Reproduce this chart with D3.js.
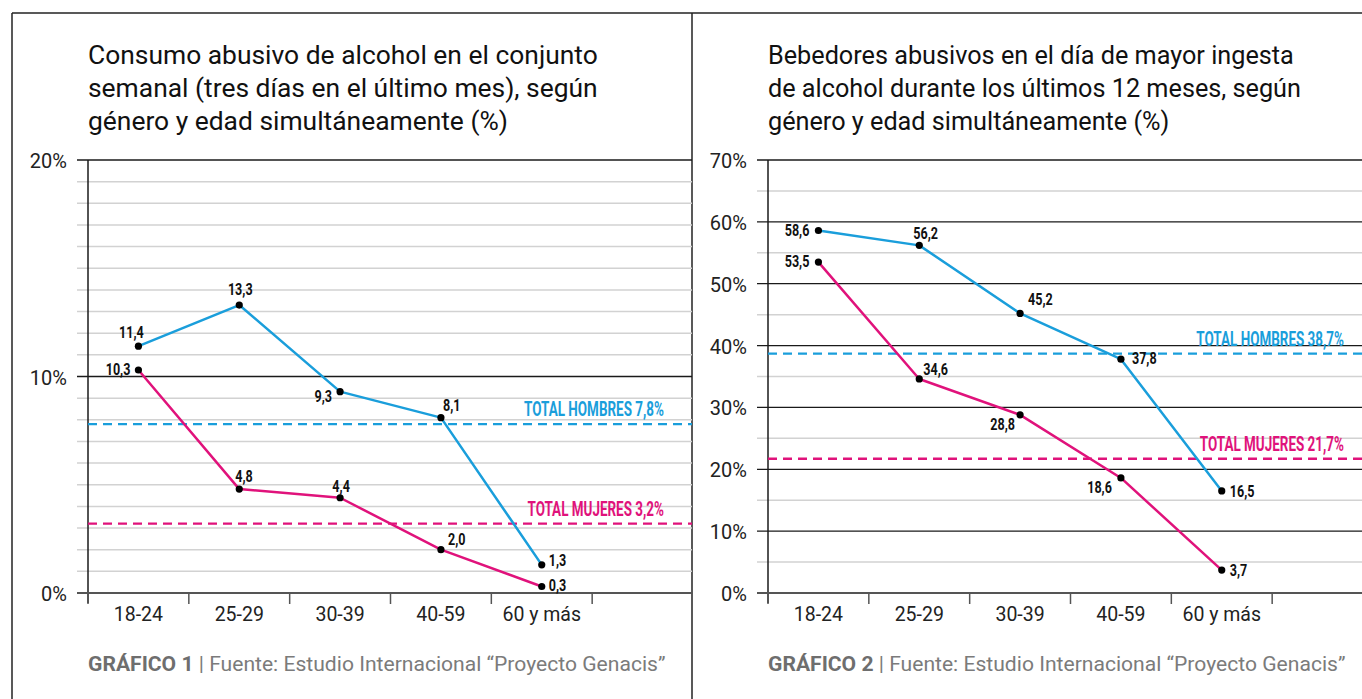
<!DOCTYPE html>
<html>
<head>
<meta charset="utf-8">
<script src="https://cdn.jsdelivr.net/npm/d3@7"></script>
<style>
  html, body { margin: 0; padding: 0; background: #fff; }
  svg { display: block; }
</style>
</head>
<body>
<svg id="chart" width="1362" height="699"></svg>
<script>
// ---------- DATA ----------
const categories = ["18-24", "25-29", "30-39", "40-59", "60 y más"];

const hombres1 = [11.4, 13.3, 9.3, 8.1, 1.3];
const mujeres1 = [10.3, 4.8, 4.4, 2.0, 0.3];
const hombres2 = [58.6, 56.2, 45.2, 37.8, 16.5];
const mujeres2 = [53.5, 34.6, 28.8, 18.6, 3.7];

const totalHombres = [7.8, 38.7];
const totalMujeres = [3.2, 21.7];

const yTicks1 = [0, 10, 20];
const yTicks2 = [0, 10, 20, 30, 40, 50, 60, 70];

const titles1 = ["Consumo abusivo de alcohol en el conjunto",
                 "semanal (tres días en el último mes), según",
                 "género y edad simultáneamente (%)"];
const titles2 = ["Bebedores abusivos en el día de mayor ingesta",
                 "de alcohol durante los últimos 12 meses, según",
                 "género y edad simultáneamente (%)"];
const footerBold = ["GRÁFICO 1", "GRÁFICO 2"];
const footerText = " | Fuente: Estudio Internacional “Proyecto Genacis”";

// label placement (anchor, dx, dy) per point
const place1H = [["middle", -7, -8], ["middle", 1, -10], ["end", -8, 10], ["start", 2, -7], ["start", 7, 1]];
const place1M = [["end", -8, 5], ["start", -4, -7], ["middle", 1, -6], ["start", 7, -5], ["start", 7, 4]];
const place2H = [["end", -9, 5], ["start", -6, -6], ["start", 8, -8], ["start", 11, 5], ["start", 8, 6]];
const place2M = [["end", -9, 5], ["start", 4, -4], ["end", -5, 15], ["end", -9, 15], ["start", 8, 6]];

// ---------- STYLE ----------
const BLUE = "#1a9edb";
const MAGENTA = "#e0127b";
const FONT = "Roboto, 'DejaVu Sans', sans-serif";
const COND = 0.74;      // horizontal condensation for value labels
const COND_TOT = 0.69;  // horizontal condensation for total labels

const svg = d3.select("#chart");
const fmt = v => d3.format(".1f")(v).replace(".", ",");

// frame
svg.append("line").attr("x1", 12).attr("x2", 1362).attr("y1", 13).attr("y2", 13)
  .attr("stroke", "#222").attr("stroke-width", 1.5);
svg.append("line").attr("x1", 12).attr("x2", 12).attr("y1", 13).attr("y2", 699)
  .attr("stroke", "#222").attr("stroke-width", 1.5);
svg.append("line").attr("x1", 692).attr("x2", 692).attr("y1", 13).attr("y2", 699)
  .attr("stroke", "#222").attr("stroke-width", 1.5);

// text in a horizontally-scaled group
function ctext(parent, x, y, opts) {
  const g = parent.append("g").attr("transform", `translate(${x},${y})`);
  const t = g.append("text").attr("x", 0).attr("y", 0)
    .attr("text-anchor", opts.anchor || "start")
    .attr("font-family", FONT)
    .attr("font-size", opts.size)
    .attr("font-weight", opts.weight || "normal")
    .attr("fill", opts.fill || "#111");
  if (opts.text !== undefined) t.text(opts.text);
  let sx = opts.sx || 1;
  if (opts.width) sx = opts.width / t.node().getComputedTextLength();
  g.attr("transform", `translate(${x},${y}) scale(${sx},1)`);
  return { g, t, sx };
}

function panel(cfg) {
  const g = svg.append("g");
  const x = d3.scaleBand().domain([...categories, "_"]).range([cfg.x0, cfg.x0 + 605]).padding(0);
  const y = d3.scaleLinear().domain([0, cfg.ymax]).range([593, 160]);
  const gx0 = cfg.x0 - 11, gx1 = cfg.right;
  const cx = c => x(c) + x.bandwidth() / 2;

  // minor gridlines
  const minor = d3.range(cfg.minorStep, cfg.ymax, cfg.minorStep).filter(v => !cfg.yTicks.includes(v));
  g.selectAll(".minor").data(minor).join("line")
    .attr("x1", gx0).attr("x2", gx1)
    .attr("y1", d => y(d)).attr("y2", d => y(d))
    .attr("stroke", "#d2d2d2").attr("stroke-width", 1.5);

  // major gridlines
  g.selectAll(".major").data(cfg.yTicks.filter(v => v > 0)).join("line")
    .attr("x1", gx0).attr("x2", gx1)
    .attr("y1", d => y(d)).attr("y2", d => y(d))
    .attr("stroke", "#1a1a1a").attr("stroke-width", 1.3);

  // y tick labels
  g.selectAll(".ylab").data(cfg.yTicks).join("text")
    .attr("x", cfg.x0 - 21).attr("y", d => y(d) + 8)
    .attr("text-anchor", "end")
    .attr("font-family", FONT).attr("font-size", 20).attr("fill", "#222")
    .text(d => d + "%");

  // y axis vertical
  g.append("line").attr("x1", cfg.x0).attr("x2", cfg.x0).attr("y1", 160).attr("y2", 603)
    .attr("stroke", "#1a1a1a").attr("stroke-width", 1.5);

  // x axis
  g.append("line").attr("x1", gx0).attr("x2", gx1).attr("y1", 593).attr("y2", 593)
    .attr("stroke", "#555").attr("stroke-width", 2);
  g.selectAll(".xtick").data([...categories, "_"]).join("line")
    .attr("x1", d => x(d)).attr("x2", d => x(d))
    .attr("y1", 593).attr("y2", 604)
    .attr("stroke", "#555").attr("stroke-width", 1.5);
  g.selectAll(".xlab").data(categories).join("text")
    .attr("x", d => cx(d)).attr("y", 621)
    .attr("text-anchor", "middle")
    .attr("font-family", FONT).attr("font-size", 19.5).attr("fill", "#222")
    .text(d => d);

  // totals dashed lines
  const totals = [[cfg.totH, BLUE, "TOTAL HOMBRES "], [cfg.totM, MAGENTA, "TOTAL MUJERES "]];
  totals.forEach(([v, c, lbl]) => {
    g.append("line").attr("x1", cfg.x0).attr("x2", gx1)
      .attr("y1", y(v)).attr("y2", y(v))
      .attr("stroke", c).attr("stroke-width", 2.3).attr("stroke-dasharray", "9,6");
    ctext(g, cfg.totLabelX, y(v) - 8, { text: lbl + fmt(v) + "%", anchor: "end",
      size: 19.5, weight: "bold", fill: c, sx: COND_TOT });
  });

  // series lines
  const line = d3.line().x((d, i) => cx(categories[i])).y(d => y(d));
  [[cfg.h, BLUE], [cfg.m, MAGENTA]].forEach(([vals, c]) => {
    g.append("path").datum(vals).attr("d", line)
      .attr("fill", "none").attr("stroke", c).attr("stroke-width", 2.5).attr("stroke-linejoin", "round");
  });
  // dots + value labels
  [[cfg.h, cfg.placeH], [cfg.m, cfg.placeM]].forEach(([vals, pl]) => {
    g.selectAll(null).data(vals).join("circle")
      .attr("cx", (d, i) => cx(categories[i])).attr("cy", d => y(d))
      .attr("r", 3.6).attr("fill", "#000");
    vals.forEach((d, i) => {
      ctext(g, cx(categories[i]) + pl[i][1], y(d) + pl[i][2], { text: fmt(d), anchor: pl[i][0],
        size: 17, weight: "bold", fill: "#111", sx: COND });
    });
  });

  // title
  const first = ctext(g, cfg.x0, 64, { text: cfg.titles[0], size: 25, fill: "#111", width: cfg.titleW });
  cfg.titles.slice(1).forEach((t, i) => {
    ctext(g, cfg.x0, 64 + (i + 1) * 33, { text: t, size: 25, fill: "#111", sx: first.sx });
  });

  // footer
  const f = ctext(g, cfg.x0, 671, { size: 20, fill: "#7b7b7b" });
  f.t.append("tspan").attr("font-weight", "bold").attr("fill", "#6e6e6e").text(cfg.footB);
  f.t.append("tspan").text(footerText);
  const sx = cfg.footW / f.t.node().getComputedTextLength();
  f.g.attr("transform", `translate(${cfg.x0},671) scale(${sx},1)`);
}

panel({ x0: 88, right: 692, ymax: 20, minorStep: 1, yTicks: yTicks1,
  h: hombres1, m: mujeres1, totH: totalHombres[0], totM: totalMujeres[0], totLabelX: 664,
  placeH: place1H, placeM: place1M, titles: titles1, titleW: 510, footB: footerBold[0], footW: 578 });

panel({ x0: 768, right: 1362, ymax: 70, minorStep: 5, yTicks: yTicks2,
  h: hombres2, m: mujeres2, totH: totalHombres[1], totM: totalMujeres[1], totLabelX: 1344,
  placeH: place2H, placeM: place2M, titles: titles2, titleW: 526, footB: footerBold[1], footW: 578 });
</script>
</body>
</html>
